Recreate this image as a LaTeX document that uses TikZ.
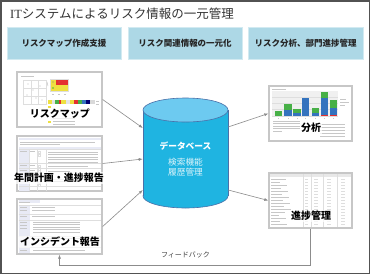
\documentclass[tikz,border=0pt]{standalone}
\usepackage{fontspec}
\setmainfont{Noto Sans CJK JP}
\newfontfamily\latinserif{Liberation Serif}
\usetikzlibrary{arrows.meta,calc}
\definecolor{boxblue}{HTML}{ADD8E6}
\definecolor{dbbody}{HTML}{1FB4E1}
\definecolor{dbtop}{HTML}{6DCAF0}
\definecolor{dbedge}{HTML}{4A70A8}
\definecolor{lav}{HTML}{E8EAF5}
\definecolor{cblue}{HTML}{3473BE}
\definecolor{cgreen}{HTML}{47B047}
\definecolor{cred}{HTML}{E43030}
\definecolor{cyel}{HTML}{EEE040}
\tikzset{
  frame/.style={draw=black!68,line width=1.5pt},
  topbox/.style={fill=boxblue,draw=boxblue!55!white,line width=0.8pt,minimum height=32pt,inner sep=0pt,
    font=\bfseries\fontsize{8.5}{10}\selectfont,text=black!85},
  thumb/.style={draw=black!22,line width=1.3pt,fill=white,minimum width=85pt,minimum height=55pt,inner sep=0pt},
  thumbr/.style={thumb,minimum width=83pt},
  lab/.style={font=\bfseries\fontsize{10}{12}\selectfont,text=black,fill=white,fill opacity=0.7,text opacity=1,inner sep=0.8pt},
  conn/.style={draw=black!45,line width=0.6pt,-{Latex[length=4pt,width=3pt]}},
  tl/.style={draw=black!22,line width=0.5pt},
  gl/.style={draw=black!13,line width=0.4pt},
}
\begin{document}
\begin{tikzpicture}[x=1pt,y=-1pt]
\useasboundingbox (0,0) rectangle (370,274);
\fill[white] (0,0) rectangle (370,274);
\draw[frame] (0.75,0.75) rectangle (369.25,273.25);

% title
\node[anchor=west,inner sep=0pt,text=black!80,font=\fontsize{12.5}{14}\selectfont] (title) at (10,14) {{\latinserif IT}システムによるリスク情報の一元管理};

% top boxes
\node[topbox,minimum width=114pt] (t1) at (64,43) {リスクマップ作成支援};
\node[topbox,minimum width=114pt] (t2) at (185,43) {リスク関連情報の一元化};
\node[topbox,minimum width=115pt] (t3) at (305.5,43) {リスク分析、部門進捗管理};

% thumbnails
\node[thumb] (rmap) at (59.5,99.5) {};
\node[thumb] (plan) at (59.5,163.5) {};
\node[thumb] (inc) at (59.5,226.5) {};
\node[thumbr] (ana) at (310.5,113.5) {};
\node[thumbr] (prog) at (310.5,200.5) {};

% --- risk map content
\draw[tl] (21,76) -- (34,76);
\draw[gl] (23,80) rectangle (46,104);
\foreach \x in {30.7,38.3} \draw[gl] (\x,80) -- (\x,104);
\foreach \y in {88,96} \draw[gl] (23,\y) -- (46,\y);
\foreach \p in {(28,84),(33,90),(40,86),(36,98),(27,95),(42,100)} \fill[black!25] \p circle (0.6);
\fill[cyel] (50,79) rectangle (56,85);
\fill[cred] (56,79) rectangle (68,85);
\fill[cyel] (50,85) rectangle (68,91);
\fill[cgreen] (53,88) circle (0.8);
\fill[black!50] (53,82) circle (0.6);
\fill[black!50] (59,82) circle (0.6);
\draw[gl] (50,79) rectangle (68,91);
\foreach \x in {52,58,64} \draw[tl] (\x,94) -- (\x+2,94);
\draw[tl] (47,82) -- (48,86);
\foreach \a/\b/\c in {48/52/cyel,52/55/black!10,55/59/cgreen,59/61/cred,61/66/cyel,66/70/black!10,70/74/cyel,74/78/cred,78/82/cgreen,82/86/cblue,86/90/blue!45!black,90/95/black!15}
  \fill[\c] (\a,100) rectangle (\b,104);
\draw[tl] (96,101) -- (99,101);
\draw[tl] (96,104) -- (99,104);
\fill[cyel] (48,106) rectangle (51,108);
\fill[cyel] (48,121) rectangle (51,123);
\foreach \y in {118,121,124} \draw[tl] (53,\y) -- (75,\y);

% --- annual plan content
\fill[lav] (18.5,137.5) rectangle (100.5,140);
\draw[tl] (20,142) -- (95,142);
\draw[tl] (20,144.5) -- (60,144.5);
\fill[lav] (18.5,147) rectangle (100.5,149.5);
\fill[lav] (18.5,149.5) rectangle (29,190.5);
\foreach \y in {149.5,163.5,168.5,179,186} \draw[gl] (18.5,\y) -- (100.5,\y);
\foreach \x in {29,37,46} \draw[gl] (\x,149.5) -- (\x,190.5);
\foreach \y in {151.5,165.5,170.5,181} {\draw[tl] (20,\y) -- (27,\y); \draw[tl] (30,\y) -- (35,\y);
  \draw[gl] (38,\y) rectangle (40,\y+2); \draw[gl] (38,\y+3) rectangle (40,\y+5);}
\foreach \y in {152,154.5,157,159.5,162} \draw[tl] (48,\y) -- (98,\y);
\draw[tl] (48,166) -- (88,166);
\draw[tl] (48,171) -- (70,171);
\draw[tl] (48,181) -- (80,181);

% --- incident content
\fill[lav] (18.5,200) rectangle (40,203);
\draw[tl] (19,202) -- (30,202);
\fill[lav] (18.5,205) rectangle (30,253);
\foreach \y in {205,214,220,236,247} \draw[gl] (18.5,\y) -- (100.5,\y);
\foreach \y in {207,210,216,222,225,228,250} \draw[tl] (20,\y) -- (27,\y);
\foreach \y in {207,210,216} \draw[tl] (32,\y) -- (55,\y);
\foreach \y in {222,224.5,227,229.5,232} \draw[tl] (33,\y) -- (80,\y);
\draw[tl] (33,238) -- (95,238);
\draw[tl] (33,250) -- (85,250);

% --- analysis content
\draw[tl] (272,89.5) -- (286,89.5);
\fill[black!6] (272,91) rectangle (338,117);
\foreach \y in {97,103,109} \draw[gl] (272,\y) -- (338,\y);
\draw[gl] (272,116.5) -- (338,116.5);
\fill[cgreen] (275,111) rectangle (282,116);
\fill[cgreen] (284,104) rectangle (292,110);
\fill[cblue] (284,110) rectangle (292,116);
\fill[cgreen] (293,109) rectangle (301,113);
\fill[cblue] (293,113) rectangle (301,116);
\fill[cblue] (302,98) rectangle (309,116);
\fill[cgreen] (312,108) rectangle (319,113);
\fill[cblue] (312,113) rectangle (319,116);
\fill[cgreen] (321,92) rectangle (328,98);
\fill[cblue] (321,98) rectangle (328,114.5);
\fill[cred] (321,114.5) rectangle (328,116);
\fill[cgreen] (330,100) rectangle (337,108);
\fill[cblue] (330,108) rectangle (337,114.5);
\fill[cred] (330,114.5) rectangle (337,116);
\foreach \x in {278,288,297,305,315,324,333} \draw[tl] (\x,118.5) -- (\x+1,118.5);
\draw[tl] (340,99) -- (346,99);
\draw[tl] (340,102) -- (349,102);
\draw[tl] (340,105) -- (345,105);
\foreach \y in {121,123.5,126,128.5} \draw[tl] (273,\y) -- (300,\y);
\draw[tl] (273,131) -- (282,131);
\foreach \y in {124,127,130,133,136} \draw[tl] (320,\y) -- (345,\y);

% --- progress content
\fill[black!9] (270,174) rectangle (351,177);
\foreach \x in {303,311,323,337} \draw[gl] (\x,174) -- (\x,227);
\foreach \y [count=\i] in {179,182,185,188,191,194,197,200,203,206,209,212,215,218,221,224} {
  \pgfmathsetmacro{\len}{mod(\i*7,13)+8}
  \draw[tl] (271,\y) -- (271+\len,\y);
  \draw[gl] (305,\y) -- (308,\y);
  \draw[gl] (314,\y) -- (318,\y);
  \draw[gl] (327,\y) -- (331,\y);
  \draw[gl] (341,\y) -- (345,\y);
}

% thumbnail labels
\node[lab] (lrmap) at (60,114) {リスクマップ};
\node[lab] (lplan) at (59,178) {年間計画・進捗報告};
\node[lab] (linc) at (60,242) {インシデント報告};
\node[lab] (lana) at (311,128) {分析};
\node[lab] (lprog) at (311,216) {進捗管理};

% database cylinder
\filldraw[fill=dbbody,draw=dbedge,line width=0.6pt] (185.5,196) ellipse [x radius=42.5, y radius=12];
\fill[dbbody] (143,110) rectangle (228,196);
\draw[dbedge,line width=0.6pt] (143,110) -- (143,196) (228,110) -- (228,196);
\filldraw[fill=dbtop,draw=dbedge,line width=0.6pt] (185.5,110) ellipse [x radius=42.5, y radius=12];
\node[inner sep=0pt,minimum width=85pt,minimum height=110pt] (db) at (185.5,153) {};
\node[text=white,font=\bfseries\fontsize{8.7}{10}\selectfont] (dbt) at (185.5,146) {データベース};
\node[text=white!85!dbbody,font=\fontsize{8.7}{9.7}\selectfont,align=center] (dbs) at (185.5,167.5) {検索機能\\履歴管理};

% connectors
\draw[conn] (rmap.east) -- ([yshift=25pt]db.west);
\draw[conn] (plan.east) -- ([yshift=-6pt]db.west);
\draw[conn] (inc.east) -- ([yshift=-37pt]db.west);
\draw[conn] ([yshift=26pt]db.east) -- (ana.west);
\draw[conn] ([yshift=-37pt]db.east) -- (prog.west);

% feedback
\draw[conn] (prog.south) -- ++(0,37) -| (inc.south);
\node[text=black!75,font=\fontsize{7}{8}\selectfont] (fb) at (185.5,255) {フィードバック};
\end{tikzpicture}
\end{document}
